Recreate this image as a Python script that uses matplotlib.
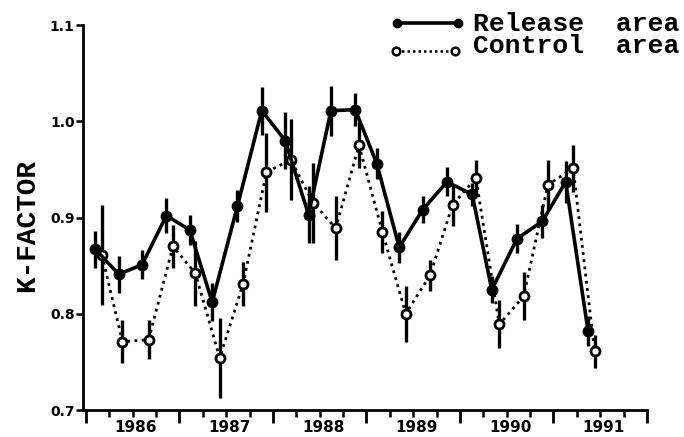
import matplotlib
matplotlib.use("Agg")
import matplotlib.pyplot as plt
import matplotlib.transforms as mtransforms
from matplotlib.lines import Line2D
import numpy as np

# ---- data ----
release_t = [1986.10, 1986.35, 1986.60, 1986.86, 1987.11, 1987.35, 1987.62, 1987.88,
             1988.13, 1988.38, 1988.62, 1988.88, 1989.11, 1989.35, 1989.60, 1989.86,
             1990.13, 1990.34, 1990.61, 1990.88, 1991.13, 1991.37]
release_k = [0.867, 0.841, 0.851, 0.902, 0.887, 0.812, 0.912, 1.011,
             0.980, 0.903, 1.011, 1.012, 0.956, 0.869, 0.908, 0.937,
             0.924, 0.825, 0.878, 0.896, 0.937, 0.782]
release_err = [0.019, 0.019, 0.015, 0.018, 0.016, 0.020, 0.017, 0.025,
               0.030, 0.030, 0.026, 0.017, 0.016, 0.016, 0.014, 0.015,
               0.012, 0.014, 0.015, 0.017, 0.022, 0.016]

control_t = [1986.17, 1986.39, 1986.67, 1986.93, 1987.17, 1987.43, 1987.68, 1987.93,
             1988.19, 1988.43, 1988.67, 1988.92, 1989.17, 1989.42, 1989.68, 1989.92,
             1990.17, 1990.42, 1990.68, 1990.94, 1991.21, 1991.44]
control_k = [0.861, 0.771, 0.773, 0.870, 0.842, 0.754, 0.831, 0.947,
             0.960, 0.915, 0.889, 0.975, 0.885, 0.800, 0.840, 0.913,
             0.941, 0.789, 0.818, 0.934, 0.951, 0.761]
control_err = [0.052, 0.022, 0.020, 0.022, 0.034, 0.042, 0.023, 0.041,
               0.042, 0.042, 0.033, 0.024, 0.022, 0.029, 0.016, 0.022,
               0.019, 0.025, 0.025, 0.026, 0.024, 0.017]

years = [1986, 1987, 1988, 1989, 1990, 1991]
year_labels = ["1986", "1987", "1988", "1989", "1990", "1991"]
y_ticks = [0.7, 0.8, 0.9, 1.0, 1.1]
y_ticklabels = ["0.7", "0.8", "0.9", "1.0", "1.1"]
legend_labels = ["Release  area", "Control  area"]
ylabel = "K-FACTOR"

# ---- figure ----
fig = plt.figure(figsize=(6.84, 4.37), dpi=100)
W, H = 684, 437
ax = fig.add_axes([83 / W, 1 - 410 / H, (647 - 83) / W, (410 - 25) / H])

ax.errorbar(control_t, control_k, yerr=control_err, fmt="none",
            ecolor="black", elinewidth=2.4, capsize=0, zorder=2)
ax.errorbar(release_t, release_k, yerr=release_err, fmt="none",
            ecolor="black", elinewidth=2.4, capsize=0, zorder=2)
ax.plot(control_t, control_k, linestyle=(0, (1, 1.6)), lw=2.0, color="black",
        marker="o", ms=6.5, mfc="white", mec="black", mew=2.0, zorder=3)
ax.plot(release_t, release_k, linestyle="-", lw=2.6, color="black",
        marker="o", ms=7.5, mfc="black", mec="black", zorder=4)

ax.set_xlim(1985.968, 1992.0)
ax.set_ylim(0.7, 1.1)

for s in ["top", "right"]:
    ax.spines[s].set_visible(False)
for s in ["left", "bottom"]:
    ax.spines[s].set_linewidth(2.0)

ax.set_xticks(years + [1992])
ax.set_xticklabels([])
ax.set_xticks(np.arange(1986.0, 1992.0, 0.25), minor=True)
ax.tick_params(axis="x", which="major", direction="out", length=9, width=2.0)
ax.tick_params(axis="x", which="minor", direction="out", length=5, width=1.8)

trans = mtransforms.blended_transform_factory(ax.transData, fig.transFigure)
for yr, lab in zip(years, year_labels):
    ax.text(yr + 0.535, 1 - 427 / H, lab, transform=trans, ha="center", va="center",
            fontsize=11, fontweight="bold", family="DejaVu Sans")

ax.set_yticks(y_ticks)
ax.set_yticklabels(y_ticklabels, fontsize=10, fontweight="bold", family="DejaVu Sans")
ax.tick_params(axis="y", which="major", direction="out", length=5, width=1.8, pad=1)

fig.text(27 / W, 1 - 225 / H, ylabel, rotation=90, ha="center", va="center",
         fontsize=20, fontweight="bold", family="Liberation Mono")

# ---- legend drawn manually ----
l1 = Line2D([397 / W, 458 / W], [1 - 23 / H, 1 - 23 / H], transform=fig.transFigure,
            color="black", lw=2.6, marker="o", ms=6, mfc="black", mec="black")
l2 = Line2D([396 / W, 455 / W], [1 - 51 / H, 1 - 51 / H], transform=fig.transFigure,
            color="black", lw=1.8, linestyle=(0, (1, 1.2)), marker="o", ms=5.5,
            mfc="white", mec="black", mew=1.8)
fig.add_artist(l1)
fig.add_artist(l2)
fig.text(473 / W, 1 - 24 / H, legend_labels[0], ha="left", va="center",
         fontsize=19, fontweight="bold", family="Liberation Mono")
fig.text(473 / W, 1 - 46 / H, legend_labels[1], ha="left", va="center",
         fontsize=19, fontweight="bold", family="Liberation Mono")

fig.savefig("out.png", dpi=100)
